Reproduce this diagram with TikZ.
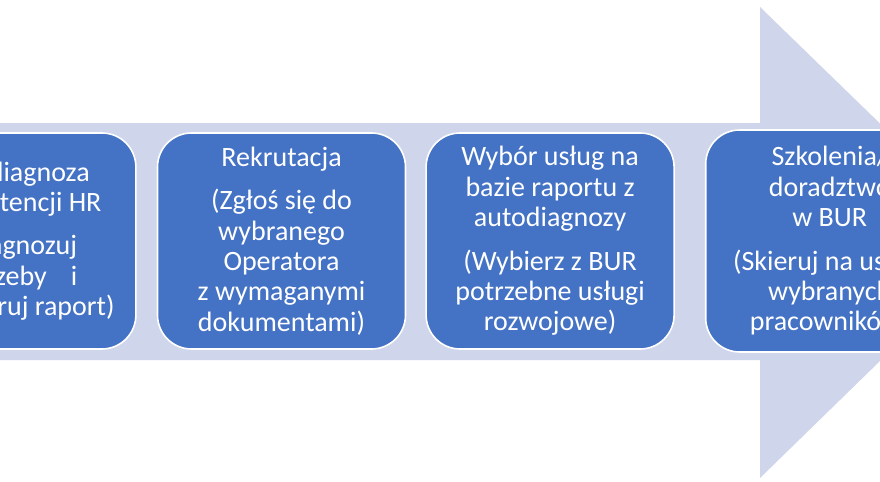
\documentclass[tikz,border=0pt]{standalone}
\usepackage{fontspec}
\setmainfont{Carlito}
\usetikzlibrary{positioning}
\definecolor{strzalka}{HTML}{CFD5EA}
\definecolor{niebieski}{HTML}{4472C4}

\begin{document}
\begin{tikzpicture}[x=.5pt, y=-.5pt,
  krok/.style={rounded corners=17pt, fill=niebieski, draw=white, line width=.8pt, text=white, align=center, minimum width=124pt, minimum height=108pt, inner sep=0pt, font=\fontsize{14}{15.2}\selectfont}]
\useasboundingbox (0,0) rectangle (880,482);
\clip (0,0) rectangle (880,482);
\fill[white] (0,0) rectangle (880,482);

% wielka strzalka w tle
\fill[strzalka] (-10,123) -- (760,123) -- (760,7) -- (1002,242) -- (760,478) -- (760,360) -- (-10,360) -- cycle;

\node[krok] (rekrutacja) at (281.5,241) {Rekrutacja\\[6.5pt](Zgłoś się do\\wybranego\\Operatora\\z wymaganymi\\dokumentami)};
\node[krok, left=10pt of rekrutacja] (autodiagnoza) {Autodiagnoza\\kompetencji HR\\[6.5pt](Zdiagnozuj\\potrzeby\hspace{12pt}i\\wygeneruj raport)};
\node[krok, right=9.5pt of rekrutacja] (wybor) {Wybór usług na\\bazie raportu z\\autodiagnozy\\[6.5pt](Wybierz z BUR\\potrzebne usługi\\rozwojowe)};
\node[krok, right=15pt of wybor, minimum height=111pt] (szkolenia) {Szkolenia/\\doradztwo\\w BUR\\[6.5pt](Skieruj na usługi\\wybranych\\pracowników)};

\end{tikzpicture}
\end{document}
